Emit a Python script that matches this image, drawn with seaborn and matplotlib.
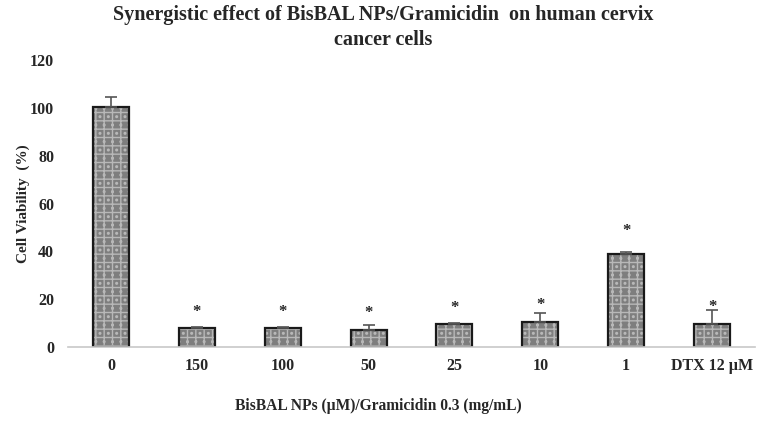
import matplotlib
matplotlib.use("Agg")
import matplotlib.pyplot as plt
import seaborn as sns
import pandas as pd
import numpy as np

categories = ["0", "150", "100", "50", "25", "10", "1", "DTX 12 µM"]
viability = [100.5, 7.8, 7.8, 7.1, 9.6, 10.3, 38.9, 9.6]
err_up = [4.2, 0.4, 0.4, 2.1, 0.5, 4.0, 1.0, 5.9]
star_y = [None, 14.7, 14.7, 14.4, 16.5, 17.6, 48.5, 16.7]

sns.set_theme(style="white")
plt.rcParams['font.family'] = ['Liberation Serif', 'DejaVu Serif']
plt.rcParams['hatch.linewidth'] = 1.0

df = pd.DataFrame({"cat": categories, "val": viability})

fig = plt.figure(figsize=(7.66, 4.25), dpi=100)
ax = fig.add_axes([68/766, 1-347/425, 687/766, 287/425])

sns.barplot(data=df, x="cat", y="val", ax=ax, color="#7e7e7e", width=0.42,
            edgecolor="#b8b8b8", linewidth=0, hatch="++..", saturation=1)
sns.barplot(data=df, x="cat", y="val", ax=ax, fill=False, width=0.42,
            edgecolor="#1a1a1a", linewidth=1.6)

xs = np.arange(len(categories))
ax.errorbar(xs, viability, yerr=[np.zeros(len(err_up)), err_up], fmt="none",
            ecolor="#555555", elinewidth=1.2, capsize=4, capthick=1.2)

for x, sy in zip(xs, star_y):
    if sy is not None:
        ax.text(x, sy, "*", ha="center", va="center",
                fontsize=12, fontweight="bold")

ax.set_ylim(0, 120)
ax.set_xlim(-0.5, 7.5)
ax.set_yticks(range(0, 121, 20))
for sp in ["top", "right", "left"]:
    ax.spines[sp].set_visible(False)
ax.spines["bottom"].set_color("#c8c8c8")
ax.spines["bottom"].set_linewidth(1.2)
ax.tick_params(axis="both", length=0, labelsize=11.5)
ax.tick_params(axis="y", pad=10)
ax.tick_params(axis="x", pad=8)
for lab in ax.get_xticklabels() + ax.get_yticklabels():
    lab.set_fontweight("bold")
ax.set_xlabel("BisBAL NPs (µM)/Gramicidin 0.3 (mg/mL)", fontsize=11.2,
              fontweight="bold")
ax.xaxis.set_label_coords((378 - 68) / 687, -(398 - 347) / 287)
ax.set_ylabel("Cell Viability  (%)", fontsize=11, fontweight="bold")
ax.yaxis.set_label_coords(-(68 - 30) / 687, 0.5)
ax.grid(False)

fig.text(0.5, 1-15/425, "Synergistic effect of BisBAL NPs/Gramicidin  on human cervix",
         ha="center", va="center", fontsize=14.5, fontweight="bold")
fig.text(0.5, 1-40/425, "cancer cells", ha="center", va="center",
         fontsize=14.5, fontweight="bold")

fig.savefig("out.png", dpi=100)
